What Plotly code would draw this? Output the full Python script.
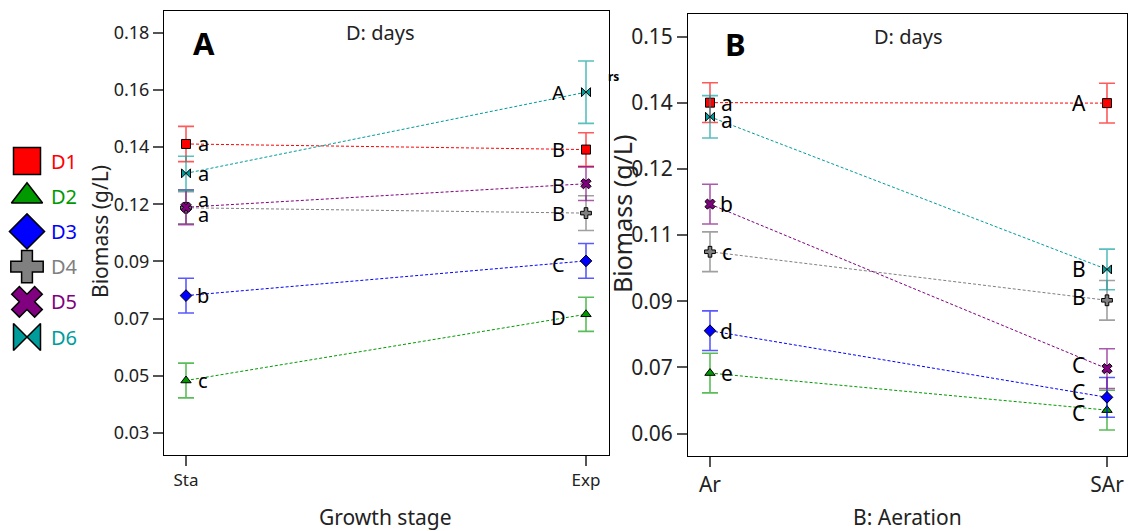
import plotly.graph_objects as go

# ---- data -------------------------------------------------------------
series = ["D1", "D2", "D3", "D4", "D5", "D6"]
stages = ["Sta", "Exp"]
aeration = ["Ar", "SAr"]

# Biomass (g/L) by growth stage, one row per series [Sta, Exp]
stage_means = [
    [0.1383, 0.1362],
    [0.0497, 0.0745],
    [0.0815, 0.0945],
    [0.1144, 0.1124],
    [0.1146, 0.1234],
    [0.1273, 0.1577],
]
stage_errs = [
    [0.0066, 0.0063],
    [0.0065, 0.0064],
    [0.0065, 0.0065],
    [0.0060, 0.0065],
    [0.0065, 0.0063],
    [0.0064, 0.0117],
]
stage_letters = [
    ["a", "B"], ["c", "D"], ["b", "C"], ["a", "B"], ["a", "B"], ["a", "A"],
]

# Biomass (g/L) by aeration, one row per series [Ar, SAr]
aer_means = [
    [0.1350, 0.1349],
    [0.0737, 0.0653],
    [0.0833, 0.0682],
    [0.1012, 0.0902],
    [0.1120, 0.0747],
    [0.1318, 0.0972],
]
aer_errs = [
    [0.0045, 0.0045],
    [0.0045, 0.0045],
    [0.0045, 0.0045],
    [0.0045, 0.0045],
    [0.0045, 0.0045],
    [0.0048, 0.0046],
]
aer_letters = [
    ["a", "A"], ["e", "C"], ["d", "C"], ["c", "B"], ["b", "C"], ["a", "B"],
]

# y-axis ticks: evenly spaced values, labelled to two decimals
a_ticktext = ["0.03", "0.05", "0.07", "0.09", "0.12", "0.14", "0.16", "0.18"]
b_ticktext = ["0.06", "0.07", "0.09", "0.11", "0.12", "0.14", "0.15"]
a_tickvals = [0.03 + k * 0.15 / 7 for k in range(len(a_ticktext))]
b_tickvals = [0.06 + k * 0.015 for k in range(len(b_ticktext))]

# ---- styles -----------------------------------------------------------
colors = ["#ff0000", "#009a00", "#0000ff", "#808080", "#800080", "#009c9c"]
err_colors = ["rgba(255,0,0,0.65)", "rgba(0,154,0,0.65)", "rgba(0,0,255,0.65)",
              "rgba(128,128,128,0.75)", "rgba(128,0,128,0.65)", "rgba(0,156,156,0.65)"]
symbols = ["square", "triangle-up", "diamond", "cross", "x", "bowtie"]
FONT = "Noto Sans"
W, H = 1128, 531

# vertical nudges (px) for the letter labels [left point, right point]
stage_nudge = [[0, 0], [0, -3], [0, -4], [-7, 0], [8, -2], [0, 0]]
aer_nudge = [[0, 0], [0, -3], [0, 5], [0, 3], [0, 4], [-3, 0]]

fig = go.Figure()

def add_panel(xcats, means, errs, letters, nudges, xa, ya, lsize, xshifts):
    for i, name in enumerate(series):
        fig.add_trace(go.Scatter(
            x=xcats, y=means[i], mode="lines+markers", name=name,
            xaxis=xa, yaxis=ya, showlegend=False,
            line=dict(color=colors[i], width=1, dash="3px,2px"),
            marker=dict(symbol=symbols[i], size=9, color=colors[i],
                        line=dict(color="black", width=1)),
            error_y=dict(type="data", array=errs[i], color=err_colors[i],
                         thickness=1.6, width=8),
        ))
        for j in range(2):
            fig.add_annotation(
                x=xcats[j], y=means[i][j], xref=xa, yref=ya,
                text=letters[i][j], showarrow=False,
                xshift=xshifts[j], yshift=nudges[i][j],
                font=dict(family=FONT, size=lsize, color="black"),
            )

add_panel(stages, stage_means, stage_errs, stage_letters, stage_nudge,
          "x", "y", 20, [17, -28])
add_panel(aeration, aer_means, aer_errs, aer_letters, aer_nudge,
          "x2", "y2", 21, [17, -28])

# legend drawn on its own hidden axes so the symbols can be large
fig.add_trace(go.Scatter(
    x=[27] * len(series), y=list(range(len(series))), mode="markers",
    xaxis="x3", yaxis="y3", showlegend=False, hoverinfo="skip",
    marker=dict(symbol=symbols, size=27, color=colors,
                line=dict(color="black", width=1.5)),
))
for i, name in enumerate(series):
    fig.add_annotation(x=49, y=i, xref="x3", yref="y3", xanchor="left",
                       text=name, showarrow=False,
                       font=dict(family=FONT, size=20, color=colors[i]))

axis_common = dict(showline=True, mirror=True, linecolor="black", linewidth=1,
                   ticks="outside", ticklen=10, tickwidth=2, tickcolor="#555555",
                   showgrid=False, zeroline=False)

def px_x(a, b):
    return [a / W, b / W]

def px_y(top, bottom):
    return [(H - bottom) / H, (H - top) / H]

fig.update_layout(
    width=W, height=H, margin=dict(l=0, r=0, t=0, b=0),
    paper_bgcolor="white", plot_bgcolor="white",
    font=dict(family=FONT, color="#222222"),
    xaxis=dict(domain=px_x(164, 609), range=[-0.055, 1.0575], anchor="y",
               type="category", tickfont=dict(size=17), **axis_common),
    yaxis=dict(domain=px_y(11, 455), range=[0.0218, 0.1881], anchor="x",
               tickvals=a_tickvals, ticktext=a_ticktext,
               tickfont=dict(size=18), **axis_common),
    xaxis2=dict(domain=px_x(688, 1127), range=[-0.0554, 1.0504], anchor="y2",
                type="category", tickfont=dict(size=21), **axis_common),
    yaxis2=dict(domain=px_y(14, 456), range=[0.0549, 0.1551], anchor="x2",
                tickvals=b_tickvals, ticktext=b_ticktext,
                tickfont=dict(size=21), **axis_common),
    xaxis3=dict(domain=[0, 100 / W], range=[0, 100], visible=False, anchor="y3"),
    yaxis3=dict(domain=[0, 1], range=[10.51, -4.574], visible=False, anchor="x3"),
)

def paper_text(x, y, text, size, bold=False, angle=0, color="#222222"):
    fig.add_annotation(x=x / W, y=(H - y) / H, xref="paper", yref="paper",
                       text=f"<b>{text}</b>" if bold else text, showarrow=False,
                       textangle=angle, xanchor="center", yanchor="middle",
                       font=dict(family=FONT, size=size, color=color))

paper_text(204, 43, "A", 31, bold=True, color="black")
paper_text(735, 44, "B", 31, bold=True, color="black")
paper_text(380, 33, "D: days", 20)
paper_text(908, 37, "D: days", 20)
paper_text(613, 77, "rs", 12, bold=True, color="black")
paper_text(100, 232, "Biomass (g/L)", 21, angle=-90)
paper_text(622, 214, "Biomass (g/L)", 25, angle=-90)
paper_text(385, 517, "Growth stage", 21)
paper_text(907, 517, "B: Aeration", 21)

fig.write_html("out.html")
